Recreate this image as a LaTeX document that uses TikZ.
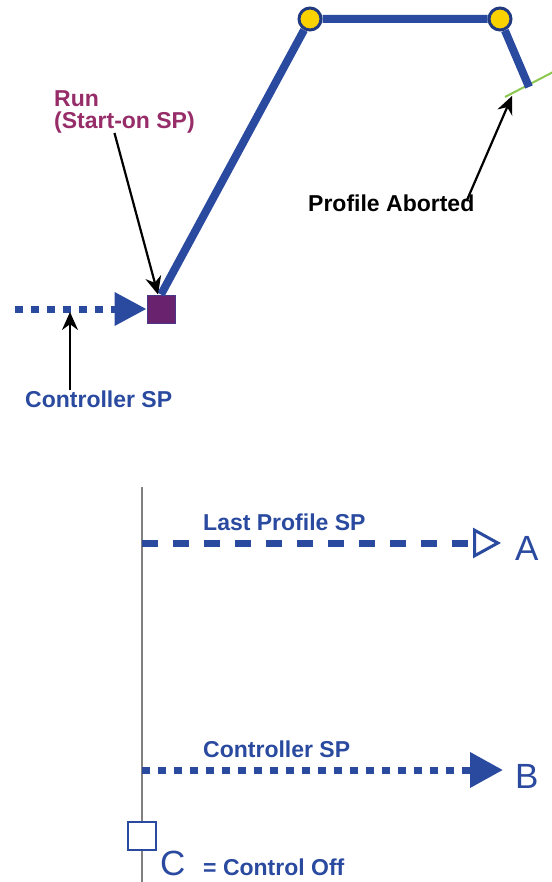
\documentclass[tikz,border=0pt]{standalone}
\usepackage{fontspec}
\setmainfont{Liberation Sans}
\usetikzlibrary{arrows.meta, positioning}

\definecolor{spblue}{RGB}{42,74,160}
\definecolor{runpurple}{RGB}{150,45,105}
\definecolor{sqpurple}{RGB}{105,35,110}
\definecolor{ptyellow}{RGB}{250,210,0}
\definecolor{abortgreen}{RGB}{140,200,80}

\begin{document}
\begin{tikzpicture}[
        x=1pt, y=-1pt,
        lbl/.style={font=\bfseries\fontsize{23}{22}\selectfont, text=spblue, inner sep=0pt, align=left},
        letter/.style={font=\fontsize{35}{35}\selectfont, text=spblue, inner sep=0pt},
        point/.style={circle, draw=spblue!80!black, fill=ptyellow, line width=3pt, minimum size=22pt, inner sep=0pt},
        profile/.style={draw=spblue, line width=8pt},
        dotline/.style={draw=spblue, line width=7pt, dash pattern=on 8pt off 8pt},
        dashline/.style={draw=spblue, line width=7pt, dash pattern=on 16pt off 15pt},
        arrow/.style={-{Stealth[length=18pt, width=16pt]}, line width=2.2pt, draw=black}
    ]
        \useasboundingbox (0,0) rectangle (551,882);

        % Profile
        \node[draw=spblue!50!sqpurple, fill=sqpurple, line width=1pt, minimum size=28pt, inner sep=0pt] (run) at (161,309) {};
        \node[point] (p1) at (310,19) {};
        \node[point] (p2) at (500,19) {};
        \coordinate (abort) at (529,87);
        \coordinate (gstart) at (505,97);
        \coordinate (gend) at (557,70);
        \coordinate (abortpt) at (512,96);
        \coordinate (cstart) at (15,309);
        \coordinate (ctrltip) at (70,312);

        \draw[abortgreen, line width=2pt] (gstart) -- (gend);
        \draw[profile] (run.north) -- (p1) -- (p2) -- (abort);
        \draw[dotline, -{Triangle[length=32pt, width=32pt]}] (cstart) -- (run.west);

        % Labels
        \node[lbl, text=runpurple, anchor=north west] (runlbl) at (54,90) {Run\\(Start-on SP)};
        \node[lbl, text=black, anchor=base west] (abortlbl) at (308,212) {Profile Aborted};
        \node[lbl, anchor=base west] (ctrlsp) at (25,407) {Controller SP};

        \draw[arrow] ([xshift=-10pt]runlbl.south) -- ([xshift=-3pt]run.north);
        \draw[arrow] ([xshift=-8pt, yshift=-6pt]abortlbl.north east) -- (abortpt);
        \draw[arrow] (ctrlsp.north -| ctrltip) -- (ctrltip);

        % Legend
        \coordinate (axtop) at (142,487);
        \coordinate (axbot) at (142,882);
        \coordinate (lastsp) at (142,543);
        \coordinate (ctrl) at (142,770);
        \node[draw=spblue, fill=white, line width=2pt, minimum size=28pt, inner sep=0pt] (off) at (142,836) {};
        \node[letter, anchor=base west] (A) at (515,560) {A};
        \node[letter, anchor=base west] (B) at (515,788) {B};
        \node[letter, anchor=base west] (C) at (160,875) {C};

        \draw[gray, line width=1.5pt] (axtop) -- (off) -- (axbot);
        \draw[dashline, -{Triangle[open, length=28pt, width=30pt, line width=3pt]}, shorten >=14pt] (lastsp) -- (lastsp -| A.west);
        \draw[dotline, -{Triangle[length=33pt, width=34pt]}, shorten >=12pt] (ctrl) -- (ctrl -| B.west);

        \node[lbl, anchor=base west] (lastlbl) at (203,530) {Last Profile SP};
        \node[lbl, anchor=base west] (ctrllbl) at (203,757) {Controller SP};
        \node[lbl, anchor=base west] (offlbl) at (203,875) {= Control Off};
    \end{tikzpicture}
\end{document}
